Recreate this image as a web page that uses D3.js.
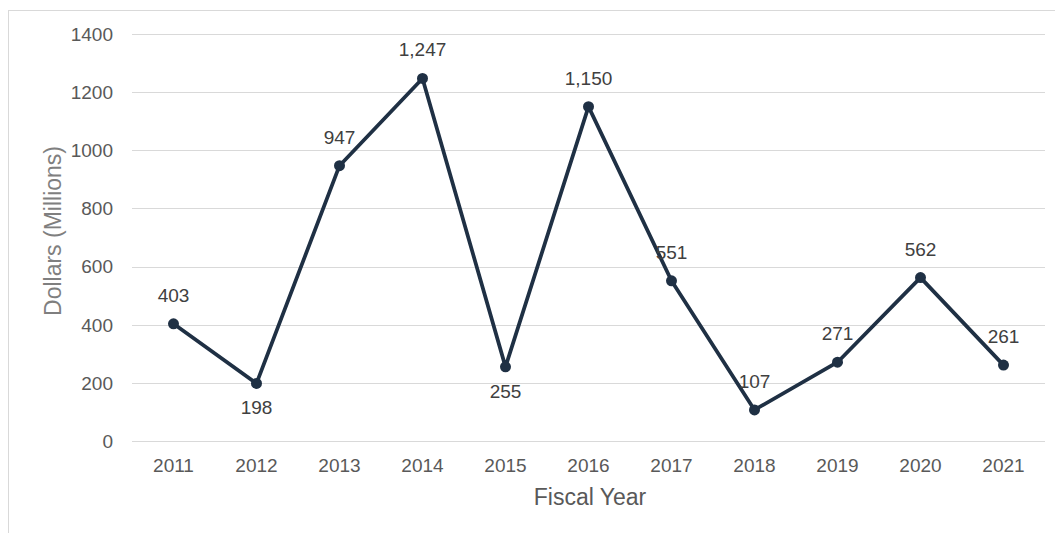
<!DOCTYPE html>
<html>
<head>
<meta charset="utf-8">
<script src="https://cdn.jsdelivr.net/npm/d3@7"></script>
<style>
  body { margin: 0; background: #fff; }
  svg { font-family: "Liberation Sans", Arial, sans-serif; }
</style>
</head>
<body>
<div id="chart"></div>
<script>
const years = ['2011', '2012', '2013', '2014', '2015', '2016', '2017', '2018', '2019', '2020', '2021'];
const dollars = [403, 198, 947, 1247, 255, 1150, 551, 107, 271, 562, 261];
const labelsBelow = ['2012', '2015'];
const yTicks = [0, 200, 400, 600, 800, 1000, 1200, 1400];

const width = 1055, height = 533;
const margin = { top: 34, right: 10, bottom: 92, left: 132 };

const svg = d3.select('#chart').append('svg')
    .attr('width', width)
    .attr('height', height);

// outer frame
svg.append('rect')
    .attr('x', 8.5).attr('y', 10.5)
    .attr('width', 1100).attr('height', 600)
    .attr('fill', 'none')
    .attr('stroke', '#d9d9d9');

const x = d3.scaleBand()
    .domain(years)
    .range([margin.left, width - margin.right]);

const y = d3.scaleLinear()
    .domain([0, 1400])
    .range([height - margin.bottom, margin.top]);

// gridlines
svg.append('g')
  .selectAll('line')
  .data(yTicks)
  .enter().append('line')
    .attr('x1', margin.left)
    .attr('x2', width - margin.right)
    .attr('y1', d => Math.round(y(d)) + 0.5)
    .attr('y2', d => Math.round(y(d)) + 0.5)
    .attr('stroke', '#d9d9d9')
    .attr('stroke-width', 1);

// y tick labels
svg.append('g')
  .selectAll('text')
  .data(yTicks)
  .enter().append('text')
    .attr('x', 113)
    .attr('y', d => y(d))
    .attr('dy', '0.36em')
    .attr('text-anchor', 'end')
    .attr('fill', '#595959')
    .style('font-size', '19px')
    .text(d => d);

// x tick labels
svg.append('g')
  .selectAll('text')
  .data(years)
  .enter().append('text')
    .attr('x', d => x(d) + x.bandwidth() / 2)
    .attr('y', height - margin.bottom + 31)
    .attr('text-anchor', 'middle')
    .attr('fill', '#595959')
    .style('font-size', '19px')
    .text(d => d);

// axis titles
svg.append('text')
    .attr('transform', 'translate(61,231) rotate(-90)')
    .attr('text-anchor', 'middle')
    .attr('fill', '#7f7f7f')
    .style('font-size', '23px')
    .text('Dollars (Millions)');

svg.append('text')
    .attr('x', 590)
    .attr('y', height - margin.bottom + 64)
    .attr('text-anchor', 'middle')
    .attr('fill', '#595959')
    .style('font-size', '23px')
    .text('Fiscal Year');

const points = years.map((yr, i) => ({ year: yr, value: dollars[i] }));
const cx = d => x(d.year) + x.bandwidth() / 2;

const line = d3.line()
    .x(cx)
    .y(d => y(d.value));

svg.append('path')
    .datum(points)
    .attr('fill', 'none')
    .attr('stroke', '#1f3044')
    .attr('stroke-width', 3.75)
    .attr('stroke-linejoin', 'round')
    .attr('d', line);

svg.append('g')
  .selectAll('circle')
  .data(points)
  .enter().append('circle')
    .attr('cx', cx)
    .attr('cy', d => y(d.value))
    .attr('r', 5.5)
    .attr('fill', '#1f3044');

// data labels
svg.append('g')
  .selectAll('text')
  .data(points)
  .enter().append('text')
    .attr('x', cx)
    .attr('y', d => labelsBelow.includes(d.year) ? y(d.value) + 31 : y(d.value) - 22)
    .attr('text-anchor', 'middle')
    .attr('fill', '#404040')
    .style('font-size', '19px')
    .text(d => d3.format(',')(d.value));
</script>
</body>
</html>
